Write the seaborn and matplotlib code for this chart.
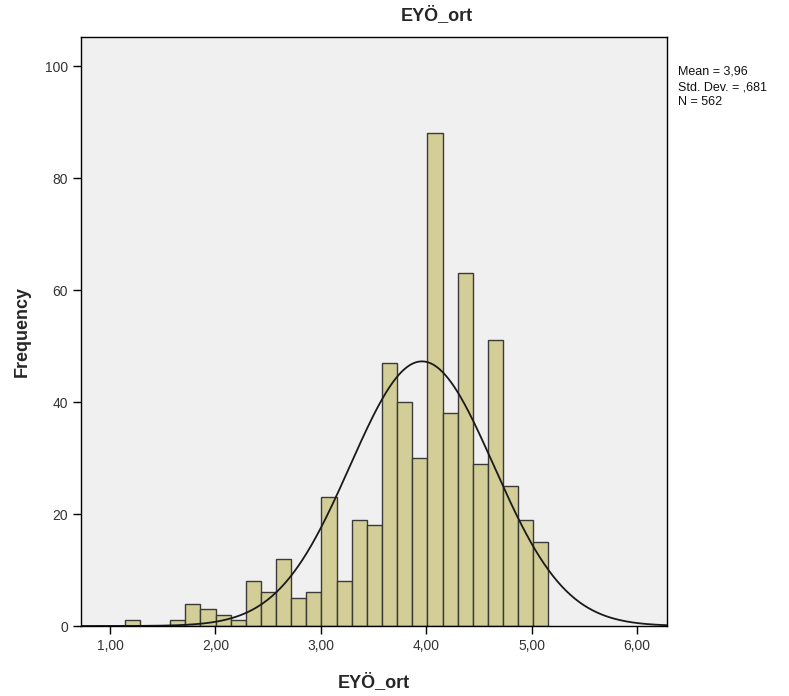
import numpy as np
import pandas as pd
import matplotlib
matplotlib.use('Agg')
import matplotlib.pyplot as plt
import seaborn as sns

# histogram bins
bin_start = 1.14
bin_width = 0.14357
counts = [1, 0, 0, 1, 4, 3, 2, 1, 8, 6, 12, 5, 6, 23, 8, 19, 18,
          47, 40, 30, 88, 38, 63, 29, 51, 25, 19, 15]
mean_val = 3.96
std_val = 0.681
n_val = 562
x_ticks = [1, 2, 3, 4, 5, 6]
y_ticks = [0, 20, 40, 60, 80, 100]

edges = bin_start + bin_width * np.arange(len(counts) + 1)
df = pd.DataFrame({'EYO_ort': (edges[:-1] + edges[1:]) / 2, 'n': counts})

sns.set_style('white')
plt.rcParams['font.family'] = ['Liberation Sans', 'DejaVu Sans']

fig = plt.figure(figsize=(7.89, 6.96), dpi=100)
ax = fig.add_axes([81/789, 1 - 626/696, (667 - 81)/789, (626 - 37)/696])
ax.set_facecolor('#f0f0f0')

sns.histplot(data=df, x='EYO_ort', weights='n', bins=edges.tolist(), ax=ax,
             color='#d3ce97', edgecolor='#3a3a3a', linewidth=1, alpha=1)

# normal curve
xs = np.linspace(0.72, 6.29, 400)
ys = n_val * bin_width * np.exp(-0.5 * ((xs - mean_val) / std_val) ** 2) / (std_val * np.sqrt(2 * np.pi))
ax.plot(xs, ys, color='#1a1a1a', linewidth=1.3)

ax.set_xlim(0.725, 6.285)
ax.set_ylim(0, 105.2)
ax.set_xticks(x_ticks)
ax.set_xticklabels([f'{v:.2f}'.replace('.', ',') for v in x_ticks])
ax.set_yticks(y_ticks)
ax.tick_params(axis='both', direction='out', length=6, width=1, color='black',
               labelsize=10, labelcolor='#333333', bottom=True, left=True)
for s in ax.spines.values():
    s.set_color('black')
    s.set_linewidth(1)

ax.set_xlabel('EYÖ_ort', fontsize=13, fontweight='bold', labelpad=14)
ax.set_ylabel('Frequency', fontsize=13, fontweight='bold', labelpad=10)
fig.text(437/789, 1 - 15/696, 'EYÖ_ort', ha='center', va='center',
         fontsize=13, fontweight='bold')

fig.text(678/789, 1 - 66/696,
         f'Mean = {mean_val:.2f}'.replace('.', ',') + '\nStd. Dev. = ,681\n' + f'N = {n_val}',
         ha='left', va='top', fontsize=9, linespacing=1.35, color='#111111')

fig.savefig('out.png', dpi=100)
